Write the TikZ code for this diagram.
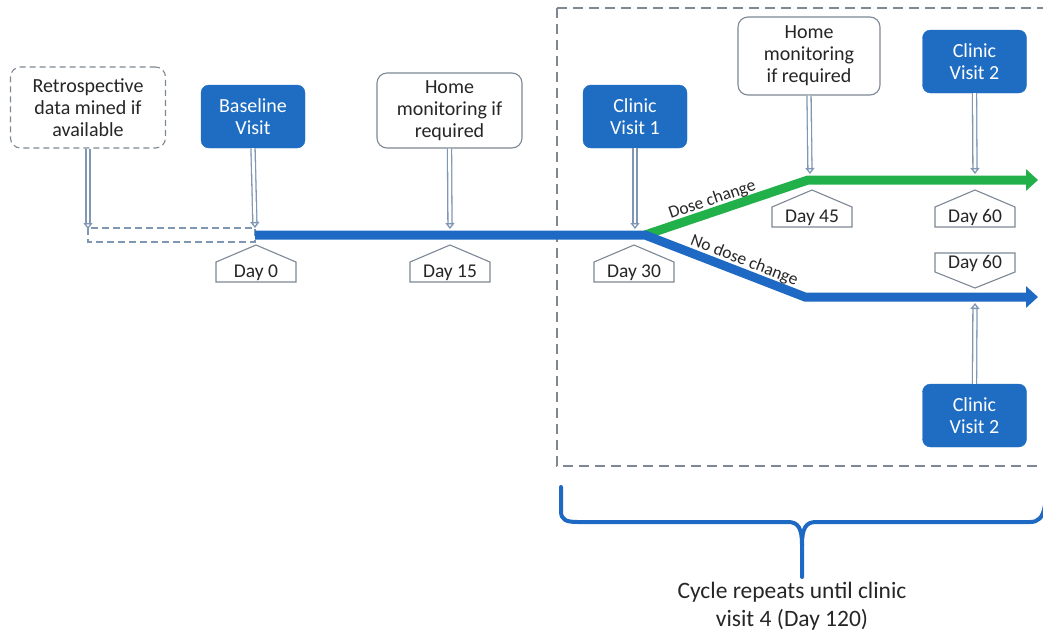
\documentclass[tikz,border=0pt]{standalone}
\usepackage{fontspec}
\setmainfont{Carlito}
\usetikzlibrary{arrows.meta,calc}
\definecolor{vblue}{HTML}{1F6DC2}
\definecolor{lblue}{HTML}{1E69C3}
\definecolor{vgreen}{HTML}{22B04A}
\definecolor{bgray}{HTML}{7D8894}
\definecolor{agray}{HTML}{7F97B3}
\newcommand\daytag[4]{%
  \draw[bgray,line width=1.1pt,fill=white] (#2-40,#3+17) -- (#2,#3) -- (#2+40,#3+17) -- (#2+40,#3+37) -- (#2-40,#3+37) -- cycle;
  \node[daytext] (#1) at (#2,#3+27.5) {#4};}
\newcommand\daytagdown[4]{%
  \draw[bgray,line width=1.1pt,fill=white] (#2-40,#3) -- (#2+40,#3) -- (#2+40,#3+19) -- (#2,#3+35) -- (#2-40,#3+19) -- cycle;
  \node[daytext] (#1) at (#2,#3+10.5) {#4};}
\tikzset{
  x=1pt,y=-1pt,
  visit/.style={rounded corners=8pt, fill=vblue, draw=vblue, text=white,
    minimum width=104pt, minimum height=63pt, align=center, inner sep=1pt,
    font=\fontsize{20}{22}\selectfont},
  note/.style={rounded corners=10pt, draw=bgray, line width=1.1pt, fill=white, text=black!85,
    align=center, inner sep=1pt, font=\fontsize{20}{22}\selectfont},
  daytext/.style={font=\fontsize{19.5}{20}\selectfont, inner sep=0pt, text=black!85},
  conn/.style={draw=agray, double=white, line width=1.3pt, double distance=2.8pt,
    -{Triangle[open,width=9pt,length=6pt,fill=white]}},
  slabel/.style={font=\fontsize{17.5}{18}\selectfont, text=black!85, inner sep=1pt},
}
\begin{document}
\begin{tikzpicture}
\useasboundingbox (0,0) rectangle (1043,633);
% cycle box
\draw[bgray, line width=1.1pt, dash pattern=on 10pt off 6pt] (557,8) rectangle (1048,466);
% nodes
\node[note, dashed, dash pattern=on 6pt off 4pt, minimum width=155pt, minimum height=81pt] (retro) at (88,107.5) {Retrospective\\data mined if\\available};
\node[visit] (base) at (253,116.5) {Baseline\\Visit};
\node[note, minimum width=145pt, minimum height=75pt] (home1) at (449.5,110.5) {Home\\monitoring if\\required};
\node[visit] (cv1) at (635,116.5) {Clinic\\Visit 1};
\node[note, minimum width=142pt, minimum height=78pt] (home2) at (809,56) {Home\\monitoring\\if required};
\node[visit] (cv2a) at (974.5,61.5) {Clinic\\Visit 2};
\node[visit] (cv2b) at (974.5,415.5) {Clinic\\Visit 2};
% timeline coordinates
\coordinate (tR) at (88,229);
\coordinate (t0) at (255,235);
\coordinate (t15) at (450,235);
\coordinate (t30) at (635,235);
\coordinate (br) at (645,235);
\coordinate (g1) at (808,180);
\coordinate (gend) at (1038,180);
\coordinate (b1) at (805,297);
\coordinate (bend) at (1038,297);
% retrospective dashed bar
\draw[agray, line width=1.2pt, dash pattern=on 7pt off 4pt] (88,228) rectangle (255,242);
% branches
\draw[vgreen, line width=9pt, -{Triangle[width=21pt,length=12pt]}] (br) -- (g1) -- (gend);
\draw[lblue, line width=9pt, -{Triangle[width=21pt,length=12pt]}] (t0) -- (br) -- (b1) -- (bend);
\path (br) -- (g1) node[midway, sloped, above=3pt, slabel, xshift=-11pt] {Dose change};
\path (br) -- (b1) node[midway, sloped, above=3pt, slabel, xshift=16pt] {No dose change};
% connectors
\draw[conn] (retro.south) -- (tR);
\draw[conn] (base.south) -- ($(t0)+(0,-7)$);
\draw[conn] (home1.south) -- ($(t15)+(0,-6)$);
\draw[conn] (cv1.south) -- ($(t30)+(0,-6)$);
\draw[conn] (home2.south) -- ($(g1)+(2,-6)$);
\draw[conn] (cv2a.south) -- (975,174);
\draw[conn] (cv2b.north) -- (975,303);
% day tags
\daytag{d0}{256}{245}{Day 0}
\daytag{d15}{450}{245}{Day 15}
\daytag{d30}{634}{245}{Day 30}
\daytag{d45}{812}{190}{Day 45}
\daytag{d60a}{975}{190}{Day 60}
\daytagdown{d60b}{975}{253}{Day 60}
% brace
\draw[lblue, line width=4pt, line cap=round] (561,487) -- (561,511) .. controls (561,520) and (566,522) .. (578,522) -- (788,522) .. controls (798,522) and (802,528) .. (802,545) -- (802,577);
\draw[lblue, line width=4pt] (802,545) .. controls (802,528) and (806,522) .. (816,522) -- (1030,522) .. controls (1038,522) and (1043,518) .. (1045,505);
\node[font=\fontsize{23.5}{28}\selectfont, align=center, text=black!85] (cyc) at (792,606) {Cycle repeats until clinic\\visit 4 (Day 120)};
\end{tikzpicture}
\end{document}
